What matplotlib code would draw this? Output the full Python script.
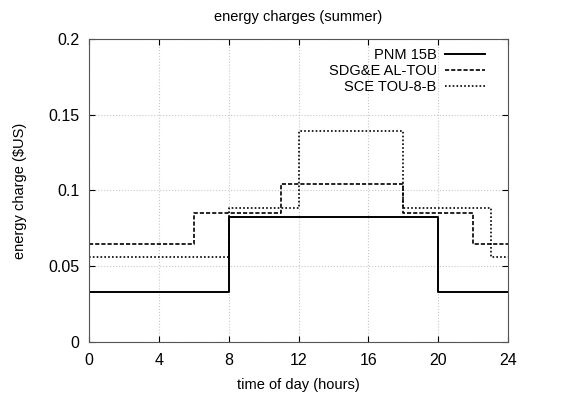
import numpy as np
import matplotlib.pyplot as plt

plt.rcParams['font.family'] = ['Liberation Sans', 'DejaVu Sans']

# rate schedules: hours where the rate changes, rate ($US) from that hour on
pnm_hours = [0, 8, 20, 24]
pnm_rates = [0.0328, 0.0823, 0.0328, 0.0328]

sdge_hours = [0, 6, 11, 18, 22, 24]
sdge_rates = [0.0645, 0.0849, 0.1043, 0.0849, 0.0645, 0.0645]

sce_hours = [0, 8, 12, 18, 23, 24]
sce_rates = [0.0559, 0.0882, 0.1395, 0.0882, 0.0559, 0.0559]

fig = plt.figure(figsize=(5.66, 3.94), dpi=100)
ax = fig.add_axes([0.157, 0.132, 0.741, 0.769])

ax.step(pnm_hours, pnm_rates, where='post', color='black', lw=1.4, label='PNM 15B')
ax.step(sdge_hours, sdge_rates, where='post', color='black', lw=1.2,
        linestyle=(0, (2.5, 1.2)), label='SDG&E AL-TOU')
ax.step(sce_hours, sce_rates, where='post', color='black', lw=1.2,
        linestyle=(0, (1, 1.3)), label='SCE TOU-8-B')

ax.set_xlim(0, 24)
ax.set_ylim(0, 0.2)
ax.set_xticks(np.arange(0, 25, 4))
ax.set_yticks([0, 0.05, 0.1, 0.15, 0.2])
ax.set_yticklabels(['0', '0.05', '0.1', '0.15', '0.2'])
ax.tick_params(direction='in', top=True, right=True, labelsize=11.5, length=4)
ax.tick_params(axis='x', pad=8)
ax.tick_params(axis='y', pad=7)
ax.grid(True, color='#c8c8c8', linestyle=':', lw=0.8)
for s in ax.spines.values():
    s.set_color('#555555')

ax.set_xlabel('time of day (hours)', fontsize=10.5, labelpad=7)
ax.set_ylabel('energy charge ($US)', fontsize=10.5, labelpad=15)
ax.set_title('energy charges (summer)', fontsize=10.5, pad=13)

ax.legend(loc='upper right', bbox_to_anchor=(0.965, 1.0), frameon=False,
          markerfirst=False, fontsize=10.5, handlelength=2.7,
          labelspacing=0.15, borderaxespad=0.2, handletextpad=0.6)

fig.savefig('out.png', dpi=100)
